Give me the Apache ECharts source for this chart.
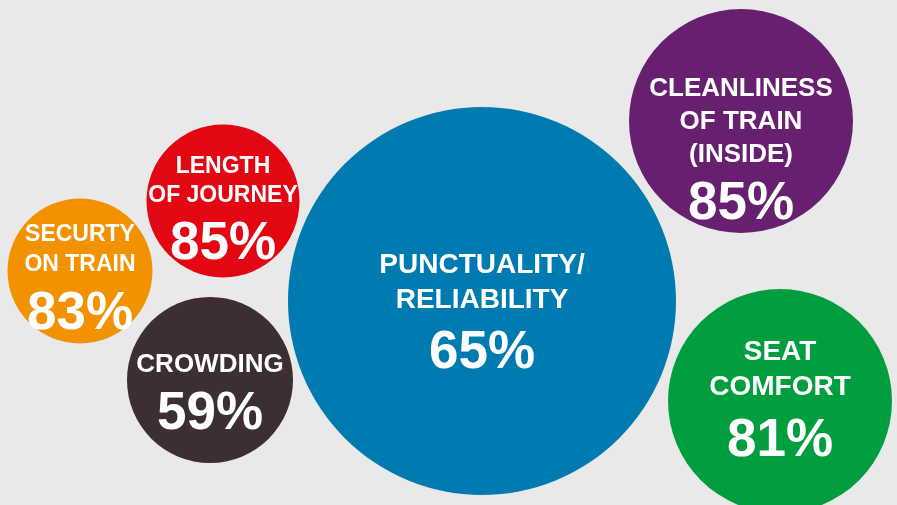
<!DOCTYPE html>
<html>
<head>
<meta charset="utf-8">
<script src="https://cdn.jsdelivr.net/npm/echarts@6/dist/echarts.min.js"></script>
<style>
html,body{margin:0;padding:0;background:#e9e9e9;}
#c{width:897px;height:505px;}
</style>
</head>
<body>
<div id="c"></div>
<script>
// ---- data ----
const labels = [
  ['PUNCTUALITY/', 'RELIABILITY'],
  ['CLEANLINESS', 'OF TRAIN', '(INSIDE)'],
  ['SEAT', 'COMFORT'],
  ['LENGTH', 'OF JOURNEY'],
  ['SECURTY', 'ON TRAIN'],
  ['CROWDING']
];
const scores = [65, 85, 81, 85, 83, 59];
const xPos = [482, 741, 780, 223, 80, 210];
const yPos = [301, 121, 401, 201, 271, 380];
const bubbleSize = [388, 224, 224, 153, 145, 166];

// ---- styles ----
const colors = ['#007bb1', '#67206f', '#009e3e', '#e30613', '#f29200', '#3d2e32'];
const labelFont = [28, 26, 28, 23, 23, 26];
const labelLH = [35, 33, 35, 29, 30, 30];
const valueLH = [71, 65, 73, 68, 68, 68];
const labelOffset = [17, 33.5, 5, 14.5, 13, 19];

const FONT = '"Liberation Sans", Arial, Helvetica, sans-serif';

const data = labels.map((lines, i) => ({
  value: [xPos[i], yPos[i], bubbleSize[i], scores[i]],
  itemStyle: { color: colors[i], opacity: 1 },
  label: {
    show: true,
    position: 'inside',
    offset: [0, labelOffset[i]],
    formatter: lines.map(l => '{t|' + l + '}').join('\n') + '\n{v|' + scores[i] + '%}',
    rich: {
      t: { fontSize: labelFont[i], lineHeight: labelLH[i], fontWeight: 'bold', color: '#ffffff', fontFamily: FONT, align: 'center' },
      v: { fontSize: 53, lineHeight: valueLH[i], fontWeight: 'bold', color: '#ffffff', fontFamily: FONT, align: 'center' }
    }
  }
}));

const chart = echarts.init(document.getElementById('c'), null, { renderer: 'canvas' });
chart.setOption({
  backgroundColor: '#e9e9e9',
  animation: false,
  grid: { left: 0, right: 0, top: 0, bottom: 0, containLabel: false },
  xAxis: { type: 'value', min: 0, max: 897, show: false },
  yAxis: { type: 'value', min: 0, max: 505, inverse: true, show: false },
  series: [{
    type: 'scatter',
    clip: false,
    symbol: 'circle',
    symbolSize: v => v[2],
    data: data,
    emphasis: { disabled: true }
  }]
});
</script>
</body>
</html>
